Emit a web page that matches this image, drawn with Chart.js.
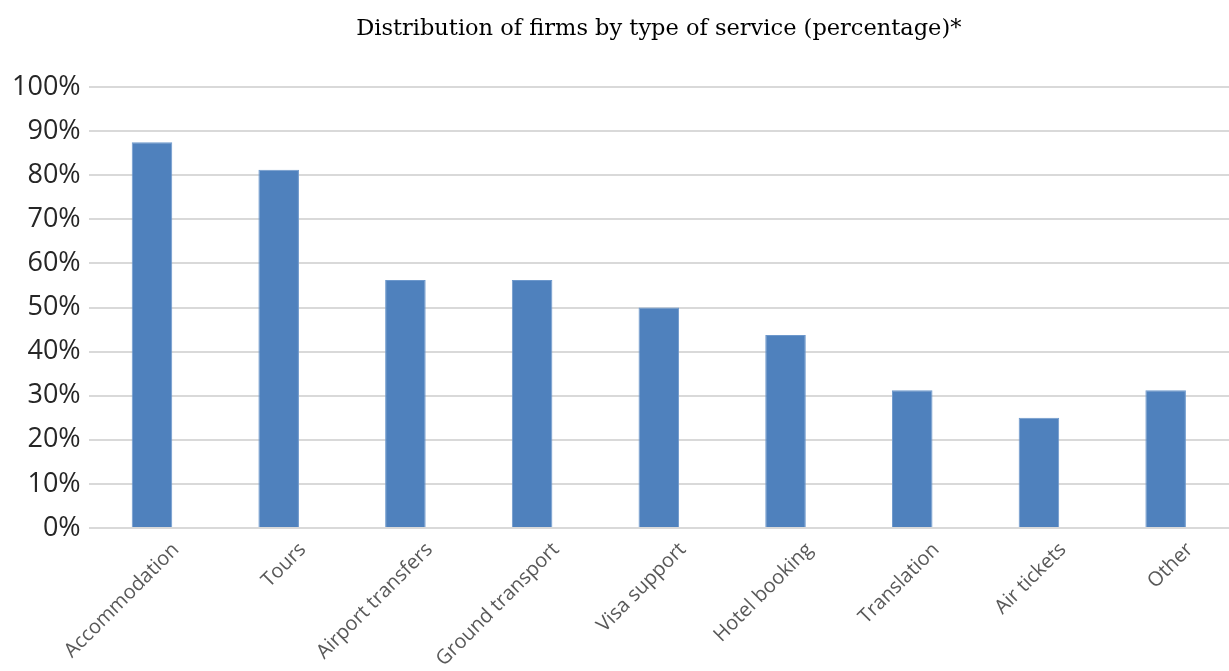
<!DOCTYPE html>
<html>
<head>
<meta charset="utf-8">
<script src="https://cdn.jsdelivr.net/npm/chart.js@4"></script>
<style>
  html, body { margin: 0; padding: 0; background: #fff; }
  #wrap { width: 1229px; height: 671px; position: relative; }
</style>
</head>
<body>
<div id="wrap"><canvas id="chart"></canvas></div>
<script>
const categories = ["Accommodation", "Tours", "Airport transfers", "Ground transport", "Visa support", "Hotel booking", "Translation", "Air tickets", "Other"];
const shares = [87.5, 81.25, 56.25, 56.25, 50, 43.75, 31.25, 25, 31.25];
const yTicks = [0, 10, 20, 30, 40, 50, 60, 70, 80, 90, 100];

new Chart(document.getElementById("chart"), {
  type: "bar",
  data: {
    labels: categories,
    datasets: [{
      data: shares,
      backgroundColor: "#4f81bd",
      borderColor: "#6d98cc",
      borderWidth: 1,
      barPercentage: 1,
      categoryPercentage: 0.32
    }]
  },
  options: {
    responsive: true,
    maintainAspectRatio: false,
    animation: false,
    layout: { padding: { top: 10, right: 0, left: 4, bottom: 0 } },
    plugins: {
      legend: { display: false },
      tooltip: { enabled: false },
      title: {
        display: true,
        fullSize: false,
        text: "Distribution of firms by type of service (percentage)*",
        color: "#000",
        font: { family: "'DejaVu Serif', serif", size: 22.5, weight: "normal" },
        padding: { top: 6, bottom: 44 }
      }
    },
    scales: {
      x: {
        grid: { display: false },
        border: { display: false },
        ticks: {
          color: "#595959",
          font: { family: "'Open Sans', sans-serif", size: 20 },
          maxRotation: 45,
          minRotation: 45,
          labelOffset: 24,
          padding: 2
        },
        afterFit: (axis) => { axis.height = 143; }
      },
      y: {
        min: 0,
        max: 100,
        afterBuildTicks: (axis) => { axis.ticks = yTicks.map(v => ({ value: v })); },
        grid: { color: "#d9d9d9", lineWidth: 2, drawTicks: false },
        border: { display: false },
        ticks: {
          color: "#262626",
          font: { family: "'Open Sans', sans-serif", size: 27 },
          padding: 8,
          callback: (v) => v + "%"
        }
      }
    }
  }
});
</script>
</body>
</html>
